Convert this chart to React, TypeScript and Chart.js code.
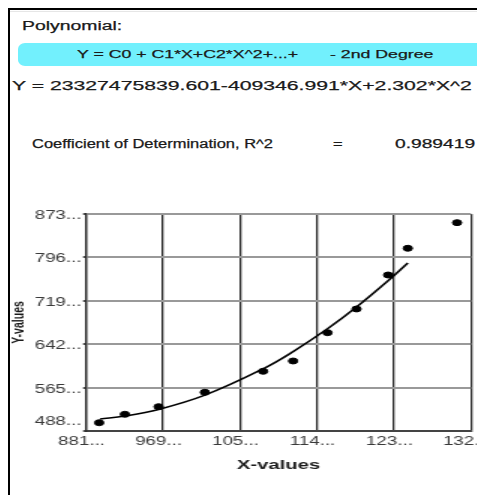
import React, { useEffect, useRef } from 'react';
import { Chart, registerables } from 'chart.js';

Chart.register(...registerables);

// ---- data ----
const X_VALUES = [89620, 92560, 96410, 101700, 108360, 111790, 115720, 119040, 122650, 124900, 130530];
const Y_VALUES = [5027e6, 5176e6, 5311e6, 5567e6, 5939e6, 6122e6, 6624e6, 7045e6, 7648e6, 8122e6, 8576e6];
const FIT_X = [89720, 92560, 96410, 101700, 108360, 111790, 115720, 119040, 122650, 124900];
const FIT_Y = [5093e6, 5145e6, 5263e6, 5516e6, 5984e6, 6289e6, 6693e6, 7079e6, 7546e6, 7862e6];
const X_TICKS = [88120, 96920, 105720, 114520, 123320, 132120];
const Y_TICKS = [4880e6, 5650e6, 6420e6, 7190e6, 7960e6, 8730e6];

const TITLE_TEXT = 'Polynomial:';
const MODEL_LEFT = 'Y = C0 + C1*X+C2*X^2+...+';
const MODEL_RIGHT = '- 2nd Degree';
const EQUATION_TEXT = 'Y = 23327475839.601-409346.991*X+2.302*X^2';
const R2_LABEL = 'Coefficient of Determination, R^2';
const R2_EQ = '=';
const R2_VALUE = '0.989419';
const X_TITLE = 'X-values';
const Y_TITLE = 'Y-values';

const short = (v: number) => String(Math.round(v)).slice(0, 3) + '...';

const FONT = "'Liberation Sans', Arial, sans-serif";

function ChartCanvas() {
  const ref = useRef<HTMLCanvasElement | null>(null);
  useEffect(() => {
    if (!ref.current) return;
    const chart = new Chart(ref.current, {
      type: 'scatter',
      data: {
        datasets: [
          {
            data: X_VALUES.map((x, i) => ({ x, y: Y_VALUES[i] })),
            backgroundColor: '#000',
            borderColor: '#000',
            pointRadius: 3,
            showLine: false,
          },
          {
            data: FIT_X.map((x, i) => ({ x, y: FIT_Y[i] })),
            borderColor: '#000',
            borderWidth: 1.6,
            pointRadius: 0,
            showLine: true,
            tension: 0.4,
          },
        ],
      },
      options: {
        animation: false,
        responsive: false,
        devicePixelRatio: 1,
        layout: { padding: { top: 14, right: 15.7, bottom: 0, left: 0 } },
        plugins: { legend: { display: false }, tooltip: { enabled: false } },
        scales: {
          x: {
            type: 'linear',
            min: X_TICKS[0],
            max: X_TICKS[X_TICKS.length - 1],
            afterBuildTicks: (s: any) => {
              s.ticks = X_TICKS.map((v) => ({ value: v }));
            },
            afterFit: (s: any) => {
              s.height = 42;
              s.paddingLeft = 0;
              s.paddingRight = 0;
            },
            grid: { color: '#2a2a2a', lineWidth: 1.3, drawTicks: false },
            border: { color: '#444', width: 2 },
            ticks: {
              color: '#3a3a3a',
              font: { family: FONT, size: 12.5 },
              padding: 3,
              labelOffset: -3,
              maxRotation: 0,
              autoSkip: false,
              callback: (v: any) => short(Number(v)),
            },
            title: {
              display: true,
              text: X_TITLE,
              color: '#1c1c1c',
              font: { family: FONT, size: 13.5, weight: 'bold' },
              padding: { top: 0, bottom: 0 },
            },
          },
          y: {
            type: 'linear',
            min: Y_TICKS[0],
            max: Y_TICKS[Y_TICKS.length - 1],
            afterBuildTicks: (s: any) => {
              s.ticks = Y_TICKS.map((v) => ({ value: v }));
            },
            afterFit: (s: any) => {
              s.width = 50.7;
              s.paddingTop = 0;
              s.paddingBottom = 0;
            },
            grid: { color: '#999', lineWidth: 2, tickLength: 2, tickColor: '#555', tickWidth: 2 },
            border: { color: '#2a2a2a', width: 1.3 },
            ticks: {
              color: '#3a3a3a',
              font: { family: FONT, size: 12.5, lineHeight: 0.9 },
              padding: 1,
              labelOffset: 1.5,
              autoSkip: false,
              callback: (v: any, i: number) => (i === 0 ? [short(Number(v)), '', ''] : short(Number(v))),
            },
            title: {
              display: true,
              text: Y_TITLE,
              color: '#1c1c1c',
              font: { family: FONT, size: 10.5, weight: 'bold' },
              padding: { top: 0, bottom: 0 },
            },
          },
        },
      },
    } as any);
    return () => chart.destroy();
  }, []);
  return (
    <canvas
      ref={ref}
      width={323}
      height={273}
      style={{ position: 'absolute', left: 0, top: 190, width: 323, height: 273 }}
    />
  );
}

function StretchText(props: { left: number; top: number; size: number; sx: number; children: React.ReactNode }) {
  return (
    <div
      style={{
        position: 'absolute',
        left: props.left,
        top: props.top,
        fontFamily: FONT,
        fontSize: props.size,
        lineHeight: props.size + 'px',
        color: '#1a1a1a',
        whiteSpace: 'pre',
        WebkitTextStroke: '0.25px #1a1a1a',
        transform: `scaleX(${props.sx})`,
        transformOrigin: '0 0',
      }}
    >
      {props.children}
    </div>
  );
}

export default function App() {
  useEffect(() => {
    document.documentElement.style.overflow = 'hidden';
    document.body.style.overflow = 'hidden';
  }, []);
  return (
    <div style={{ position: 'relative', width: 477, height: 487, overflow: 'hidden', background: '#fff' }}>
      <div style={{ position: 'absolute', left: 0, top: 0, width: 474, height: 2, background: '#000' }} />
      <div style={{ position: 'absolute', left: 0, top: 0, width: 2, height: 487, background: '#000' }} />
      <div style={{ position: 'absolute', left: 2, top: 3, width: 472, height: 1, background: '#e6e6e6' }} />

      <StretchText left={14} top={11.75} size={12.5} sx={1.55}>{TITLE_TEXT}</StretchText>

      <div
        style={{
          position: 'absolute',
          left: 10,
          top: 35,
          width: 466,
          height: 23,
          background: '#72F0FD',
          borderRadius: '7px / 6px',
        }}
      />
      <StretchText left={69} top={40.75} size={11.5} sx={1.54}>{MODEL_LEFT}</StretchText>
      <StretchText left={322} top={40.75} size={11.5} sx={1.54}>{MODEL_RIGHT}</StretchText>

      <StretchText left={3.7} top={71.25} size={13.5} sx={1.57}>{EQUATION_TEXT}</StretchText>

      <StretchText left={23.7} top={130} size={12} sx={1.373}>{R2_LABEL}</StretchText>
      <StretchText left={324.7} top={130} size={12} sx={1.37}>{R2_EQ}</StretchText>
      <StretchText left={387} top={130} size={12} sx={1.6}>{R2_VALUE}</StretchText>

      <div
        style={{
          position: 'absolute',
          left: 2,
          top: 2,
          width: 316,
          height: 485,
          transform: 'scaleX(1.5)',
          transformOrigin: '0 0',
        }}
      >
        <ChartCanvas />
      </div>
    </div>
  );
}
